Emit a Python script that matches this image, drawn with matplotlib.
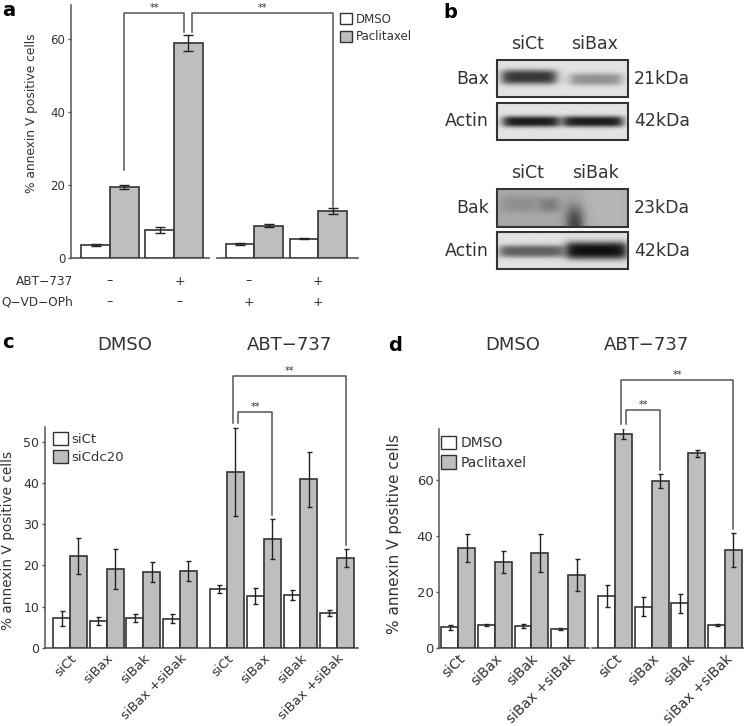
import numpy as np
import matplotlib
matplotlib.use('Agg')
import matplotlib.pyplot as plt
from matplotlib.patches import Patch, Rectangle
from matplotlib.transforms import blended_transform_factory

plt.rcParams['font.family'] = ['DejaVu Sans']

# ---- panel a : annexin V, DMSO vs paclitaxel ----
a_dmso = [3.5, 7.7, 3.9, 5.3]
a_dmso_err = [0.3, 0.8, 0.2, 0.2]
a_pacl = [19.4, 59.1, 8.9, 13.0]
a_pacl_err = [0.5, 2.2, 0.4, 0.8]
a_abt = ['–', '+', '–', '+']
a_qvd = ['–', '–', '+', '+']

# ---- panels c / d : siRNA ----
sirna = ['siCt', 'siBax', 'siBak', 'siBax +siBak']
treat_cd = ['DMSO', 'ABT−737']
c_sict = [7.1, 6.5, 7.2, 7.0, 14.2, 12.5, 12.8, 8.5]
c_sict_err = [1.8, 0.9, 1.0, 1.1, 1.0, 1.9, 1.2, 0.7]
c_cdc20 = [22.2, 19.1, 18.3, 18.6, 42.7, 26.4, 40.9, 21.8]
c_cdc20_err = [4.4, 4.9, 2.4, 2.5, 10.7, 4.8, 6.7, 2.1]
d_dmso = [7.3, 8.1, 7.7, 6.7, 18.6, 14.6, 15.8, 8.1]
d_dmso_err = [0.9, 0.3, 0.6, 0.4, 3.9, 3.4, 3.4, 0.4]
d_pacl = [35.5, 30.5, 33.9, 26.0, 76.5, 59.6, 69.4, 34.9]
d_pacl_err = [5.0, 3.9, 6.7, 5.6, 2.0, 2.5, 1.2, 6.0]
cd_sig = [(4, 5), (4, 7)]

# ---- panel b : western blots (bg level, bands: x0, x1, y centre, half width, depth) ----
blot_names = ['Bax', 'Actin', 'Bak', 'Actin']
blot_kda = ['21kDa', '42kDa', '23kDa', '42kDa']
blot_lanes = [['siCt', 'siBax'], ['siCt', 'siBak']]
blot_bg = [0.89, 0.89, 0.66, 0.88]
blot_bands = [
    [(0.04, 0.45, 0.46, 0.20, 0.68), (0.56, 0.95, 0.52, 0.17, 0.32)],
    [(0.05, 0.47, 0.50, 0.15, 0.78), (0.51, 0.96, 0.50, 0.15, 0.78)],
    [(0.04, 0.30, 0.40, 0.22, 0.10), (0.33, 0.47, 0.42, 0.20, 0.18),
     (0.54, 0.65, 1.00, 0.55, 0.45), (0.65, 1.00, 0.50, 3.00, -0.05)],
    [(0.02, 0.50, 0.52, 0.17, 0.50), (0.53, 0.99, 0.50, 0.24, 0.82)],
]

W, H = 747, 726
TXT = '#333333'
AX = '#555555'
GRAY = '#bebebe'
EDGE = '#333333'

fig = plt.figure(figsize=(W / 100, H / 100), dpi=100)


def add_ax(l, t, r, b):
    return fig.add_axes([l / W, 1 - b / H, (r - l) / W, (b - t) / H])


def ftext(x, y, s, **kw):
    kw.setdefault('color', TXT)
    fig.text(x / W, 1 - y / H, s, **kw)


# overlay axes in pixel coordinates for panel b
ov = fig.add_axes([0, 0, 1, 1])
ov.axis('off')


def style_axes(ax, ylim, yticks, fs):
    for s in ['top', 'right', 'bottom']:
        ax.spines[s].set_visible(False)
    ax.spines['left'].set_color(AX)
    ax.spines['left'].set_linewidth(1.1)
    ax.set_ylim(*ylim)
    ax.set_yticks(yticks)
    ax.tick_params(axis='y', length=2.5, width=1, color=AX, labelcolor=TXT,
                   labelsize=fs, pad=1.5)
    ax.tick_params(axis='x', length=0)
    ax.patch.set_alpha(0)


def draw_bars(ax, x, w, v1, e1, v2, e2, cap):
    ekw = dict(ecolor='#222222', elinewidth=1, capsize=cap, capthick=1)
    ax.bar(x - w / 2, v1, w, yerr=e1, color='white', edgecolor=EDGE,
           linewidth=1.2, error_kw=ekw, zorder=3)
    ax.bar(x + w / 2, v2, w, yerr=e2, color=GRAY, edgecolor=EDGE,
           linewidth=1.2, error_kw=ekw, zorder=3)


def baseline(ax, segs):
    for l, r in segs:
        ax.plot([l, r], [0, 0], color=AX, lw=1.2, clip_on=False, zorder=2)


def bracket(ax, xa, xb, ya, yb, ytop, fs):
    ax.plot([xa, xa, xb, xb], [ya, ytop, ytop, yb], color='#555555', lw=1.1,
            clip_on=False, zorder=4)
    ax.text((xa + xb) / 2, ytop, '**', ha='center', va='bottom', fontsize=fs,
            color=TXT, clip_on=False)


# ================= panel a =================
axa = add_ax(71, 5, 358, 258)
xa = np.arange(4) + 0.26 * (np.arange(4) >= 2)
wa = 0.45
draw_bars(axa, xa, wa, a_dmso, a_dmso_err, a_pacl, a_pacl_err, 3.5)
axa.set_xlim(xa[0] - 0.61, xa[-1] + 0.62)
style_axes(axa, (0, 69.4), [0, 20, 40, 60], 8.5)
axa.set_xticks([])
baseline(axa, [(xa[0] - 0.61, xa[1] + 0.55), (xa[2] - 0.59, xa[-1] + 0.62)])
ytop_a = 67.2
xg = xa + wa / 2
bracket(axa, xg[0], xg[1] - 0.06, a_pacl[0] + a_pacl_err[0] + 4.3,
        a_pacl[1] + a_pacl_err[1] + 0.7, ytop_a, 7)
bracket(axa, xg[1] + 0.06, xg[3], a_pacl[1] + a_pacl_err[1] + 0.7,
        a_pacl[3] + a_pacl_err[3] + 0.3, ytop_a, 7)
axa.legend([Patch(facecolor='white', edgecolor=EDGE), Patch(facecolor=GRAY, edgecolor=EDGE)],
           ['DMSO', 'Paclitaxel'], loc='upper left', bbox_to_anchor=(340 / W, 1 - 13 / H),
           bbox_transform=fig.transFigure, frameon=False, fontsize=8.5,
           handlelength=1.05, handleheight=1.05, handletextpad=0.3,
           labelspacing=0.35, borderpad=0, borderaxespad=0, labelcolor=TXT)
tra = blended_transform_factory(axa.transData, fig.transFigure)
xs_lab = np.linspace(xa[0], xa[-1], 4)
for xi, s1, s2 in zip(xs_lab, a_abt, a_qvd):
    axa.text(xi, 1 - 281 / H, s1, transform=tra, ha='center', va='center', fontsize=9, color=TXT)
    axa.text(xi, 1 - 302 / H, s2, transform=tra, ha='center', va='center', fontsize=9, color=TXT)
ftext(73, 281, 'ABT−737', ha='right', va='center', fontsize=8.7)
ftext(73, 302, 'Q−VD−OPh', ha='right', va='center', fontsize=8.7)
ftext(32, 113, '% annexin V positive cells', rotation=90, ha='center', va='center', fontsize=8.8)
ftext(2, 10, 'a', fontsize=14, fontweight='bold', ha='left', va='center', color='black')

# ================= panel b =================
ftext(443, 12, 'b', fontsize=14, fontweight='bold', ha='left', va='center', color='black')
boxes = [(497, 60, 628, 97), (497, 103, 628, 140), (497, 189, 628, 227), (497, 232, 628, 269)]
for i, (l, t, r, b) in enumerate(boxes):
    hh, ww = 60, 200
    yy, xx = np.mgrid[0:hh, 0:ww]
    fy = (yy + 0.5) / hh
    fx = (xx + 0.5) / ww
    img = np.full((hh, ww), blot_bg[i])
    for x0, x1, yc, sg, dp in blot_bands[i]:
        edge = 1 / (1 + np.exp(-(fx - x0) / 0.022)) * 1 / (1 + np.exp((fx - x1) / 0.022))
        img = img - dp * edge * np.exp(-np.abs((fy - yc) / sg) ** 3)
    ov.imshow(np.clip(img, 0, 1), cmap='gray', vmin=0, vmax=1, extent=(l, r, b, t),
              aspect='auto', interpolation='bilinear', zorder=1)
    ov.add_patch(Rectangle((l, t), r - l, b - t, fill=False, edgecolor='#333333', lw=1.5, zorder=2))
    ov.text(489, (t + b) / 2, blot_names[i], ha='right', va='center', fontsize=12.5, color=TXT)
    ov.text(634, (t + b) / 2, blot_kda[i], ha='left', va='center', fontsize=12.5, color=TXT)
for (t0, lanes) in zip([44, 173], blot_lanes):
    ov.text(527, t0, lanes[0], ha='center', va='center', fontsize=12.5, color=TXT)
    ov.text(595, t0, lanes[1], ha='center', va='center', fontsize=12.5, color=TXT)
ov.set_xlim(0, W)
ov.set_ylim(H, 0)


# ================= panels c and d =================
def panel_cd(box, v1, e1, v2, e2, ylim, yticks, leg_labels, leg_xy, xpad, seg_pad,
             fs, tfs, ylab_xy, ylab_fs, tops, pad, title_dx):
    ax = add_ax(*box)
    x = np.arange(8) + 0.28 * (np.arange(8) >= 4)
    w = 0.46
    draw_bars(ax, x, w, v1, e1, v2, e2, 1.8)
    ax.set_xlim(x[0] - xpad[0], x[-1] + xpad[1])
    style_axes(ax, ylim, yticks, fs)
    baseline(ax, [(x[0] - xpad[0], x[3] + seg_pad[0]), (x[4] - seg_pad[1], x[-1] + xpad[1])])
    ax.set_xticks(x)
    ax.set_xticklabels(sirna * 2, rotation=45, ha='right', rotation_mode='anchor',
                       fontsize=tfs, color=TXT)
    ax.tick_params(axis='x', pad=3)
    xg = x + w / 2
    top1 = v2[4] + e2[4] + pad
    (i0, i1), (j0, j1) = cd_sig
    bracket(ax, xg[i0] + 0.07, xg[i1], top1, v2[i1] + e2[i1] + pad, tops[0], 7)
    bracket(ax, xg[j0] - 0.07, xg[j1], top1, v2[j1] + e2[j1] + pad, tops[1], 7)
    ax.legend([Patch(facecolor='white', edgecolor=EDGE), Patch(facecolor=GRAY, edgecolor=EDGE)],
              leg_labels, loc='upper left', bbox_to_anchor=(leg_xy[0] / W, 1 - leg_xy[1] / H),
              bbox_transform=fig.transFigure, frameon=False, fontsize=fs + 0.5,
              handlelength=1.1, handleheight=1.1, handletextpad=0.3,
              labelspacing=0.35, borderpad=0, borderaxespad=0, labelcolor=TXT)
    tr = blended_transform_factory(ax.transData, fig.transFigure)
    for k, name in enumerate(treat_cd):
        ax.text(x[4 * k:4 * k + 4].mean() + title_dx[k], 1 - 345 / H, name, transform=tr,
                ha='center', va='center', fontsize=13, color=TXT)
    ftext(ylab_xy[0], ylab_xy[1], '% annexin V positive cells', rotation=90,
          ha='center', va='center', fontsize=ylab_fs)
    return ax


panel_cd((45, 427.3, 358, 647.7), c_sict, c_sict_err, c_cdc20, c_cdc20_err,
         (0, 53.5), [0, 10, 20, 30, 40, 50], ['siCt', 'siCdc20'], (53, 432),
         (0.68, 0.57), (0.65, 0.57), 9, 9.5, (8, 540), 9.8, (57.3, 65.9), 1.1, (0, 0.2))
ftext(2, 343, 'c', fontsize=14, fontweight='bold', ha='left', va='center', color='black')

panel_cd((439, 428.5, 743, 647.7), d_dmso, d_dmso_err, d_pacl, d_pacl_err,
         (0, 78.3), [0, 20, 40, 60], ['DMSO', 'Paclitaxel'], (441, 436),
         (0.52, 0.49), (0.57, 0.63), 9.5, 10, (395, 534), 11, (84.9, 95.6), 1.4, (0, -0.63))
ftext(388, 345, 'd', fontsize=14, fontweight='bold', ha='left', va='center', color='black')

fig.savefig('out.png', dpi=100)
